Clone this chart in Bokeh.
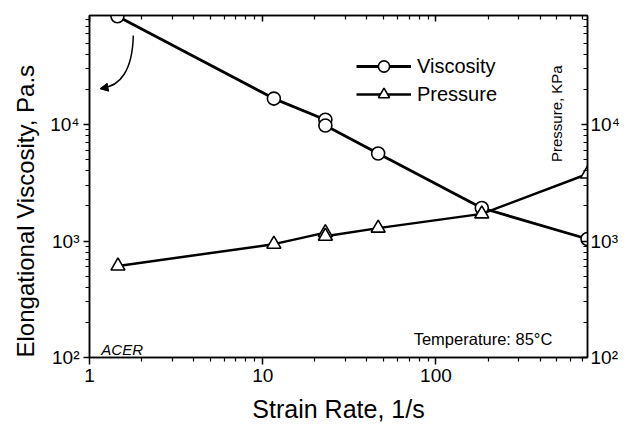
import math
from bokeh.plotting import figure
from bokeh.models import (Range1d, LogAxis, FixedTicker, CustomJSTickFormatter, Legend,
                          LegendItem, Label, Arrow, NormalHead, Title)
from bokeh.embed import file_html
from bokeh.resources import INLINE

# ---- data ----
strain_rate_visc = [1.45, 11.6, 23.0, 23.0, 46.4, 184.0, 750.0]
viscosity = [85000, 16700, 11000, 9800, 5640, 1920, 1040]
strain_rate_pres = [1.46, 11.6, 23.0, 23.0, 46.4, 184.0, 750.0]
pressure = [610, 940, 1180, 1100, 1290, 1710, 3760]

x_major = [1, 10, 100]
y_major = [100, 1000, 10000]

FONT = "Liberation Sans"

x_minor = [m * d for d in (1, 10, 100) for m in range(2, 10) if m * d < 750]
y_minor = [m * d for d in (100, 1000, 10000) for m in range(2, 10)]

p = figure(width=629, height=425, x_axis_type="log", y_axis_type="log",
           x_range=Range1d(1, 750), y_range=Range1d(100, 86300),
           output_backend="svg", toolbar_location=None,
           min_border_left=88, min_border_right=42, min_border_top=15, min_border_bottom=68)
p.extra_y_ranges = {"pres": Range1d(100, 86300)}
p.xgrid.visible = False
p.ygrid.visible = False
p.outline_line_color = "black"
p.outline_line_width = 1.5
p.background_fill_color = "white"
p.border_fill_color = "white"

sup_code = """
const sup = {'0':'\u2070','1':'\u00b9','2':'\u00b2','3':'\u00b3','4':'\u2074','5':'\u2075','6':'\u2076'};
const e = Math.round(Math.log10(tick));
return '10' + String(e).split('').map(c => sup[c]).join('');
"""
yfmt = CustomJSTickFormatter(code=sup_code)
xfmt = CustomJSTickFormatter(code="return String(Math.round(tick));")
blank = CustomJSTickFormatter(code="return '';")

def style(ax, tin, tout):
    ax.axis_line_color = "black"
    ax.axis_line_width = 1.5
    ax.major_tick_line_color = "black"
    ax.minor_tick_line_color = "black"
    ax.major_tick_line_width = 1.5
    ax.minor_tick_line_width = 1.2
    ax.major_tick_in = tin[0]
    ax.major_tick_out = tout[0]
    ax.minor_tick_in = tin[1]
    ax.minor_tick_out = tout[1]
    ax.major_label_text_font = FONT
    ax.major_label_text_font_size = "19px"
    ax.major_label_text_color = "black"
    ax.axis_label_text_font = FONT
    ax.axis_label_text_font_style = "normal"
    ax.axis_label_text_font_size = "25px"
    ax.axis_label_text_color = "black"

xax = p.xaxis[0]
xax.ticker = FixedTicker(ticks=x_major, minor_ticks=x_minor)
xax.formatter = xfmt
style(xax, (0, 0), (7, 4))
xax.axis_label = "Strain Rate, 1/s"
xax.major_label_standoff = 4
xax.axis_label_standoff = 10

yax = p.yaxis[0]
yax.ticker = FixedTicker(ticks=y_major, minor_ticks=y_minor)
yax.formatter = yfmt
style(yax, (0, 0), (6, 4))
yax.major_label_standoff = 4

ytitle = Title(text="Elongational Viscosity, Pa.s", align="left", offset=0,
               text_font=FONT, text_font_size="24px", text_font_style="normal",
               text_color="black", standoff=18, vertical_align="bottom")
p.add_layout(ytitle, "left")

rax = LogAxis(y_range_name="pres", ticker=FixedTicker(ticks=y_major, minor_ticks=y_minor),
              formatter=yfmt)
style(rax, (6, 4), (0, 0))
rax.major_label_standoff = 3
p.add_layout(rax, "right")

tax = LogAxis(ticker=FixedTicker(ticks=x_major, minor_ticks=x_minor), formatter=blank)
style(tax, (6, 4), (0, 0))
tax.major_label_text_font_size = "1px"
tax.major_label_standoff = 0
p.add_layout(tax, "above")

# ---- series ----
vl = p.line(strain_rate_visc, viscosity, line_color="black", line_width=2.8)
vm = p.scatter(strain_rate_visc, viscosity, marker="circle", size=13,
               fill_color="white", line_color="black", line_width=1.6)
pl = p.line(strain_rate_pres, pressure, line_color="black", line_width=2.5, y_range_name="pres")
pm = p.scatter(strain_rate_pres, pressure, marker="triangle", size=14,
               fill_color="white", line_color="black", line_width=1.6, y_range_name="pres")

legend = Legend(items=[LegendItem(label="Viscosity", renderers=[vl, vm]),
                       LegendItem(label="Pressure", renderers=[pl, pm])],
                location=(267, 249), orientation="vertical")
legend.glyph_width = 55
legend.glyph_height = 28
legend.label_height = 28
legend.spacing = 0
legend.padding = 0
legend.margin = 0
legend.label_standoff = 6
legend.label_text_font = FONT
legend.label_text_font_size = "20px"
legend.label_text_color = "black"
legend.border_line_color = None
legend.background_fill_alpha = 0
p.add_layout(legend, "center")

# ---- annotations ----
p.bezier(x0=[1.79], y0=[58100], x1=[1.19], y1=[20700], cx0=[1.77], cy0=[29000],
         cx1=[1.50], cy1=[21300], line_color="black", line_width=1.5)
p.add_layout(Arrow(end=NormalHead(size=8, fill_color="black", line_color="black", line_width=1),
                   x_start=1.28, y_start=20900, x_end=1.15, y_end=20300,
                   line_color="black", line_width=1.5))

p.add_layout(Label(x=1.17, y=117, text="ACER", text_font=FONT, text_font_size="15px",
                   text_font_style="italic", text_color="black", text_baseline="alphabetic"))
p.add_layout(Label(x=470, y=143, text="Temperature: 85\u00b0C", text_font=FONT,
                   text_font_size="16.5px", text_color="black", text_align="right",
                   text_baseline="alphabetic"))
p.add_layout(Label(x=496, y=12400, text="Pressure, KPa", text_font=FONT,
                   text_font_size="15px", text_color="black", angle=math.pi / 2,
                   text_align="center", text_baseline="middle", y_range_name="pres"))

open("out.html", "w").write(file_html(p, INLINE))
